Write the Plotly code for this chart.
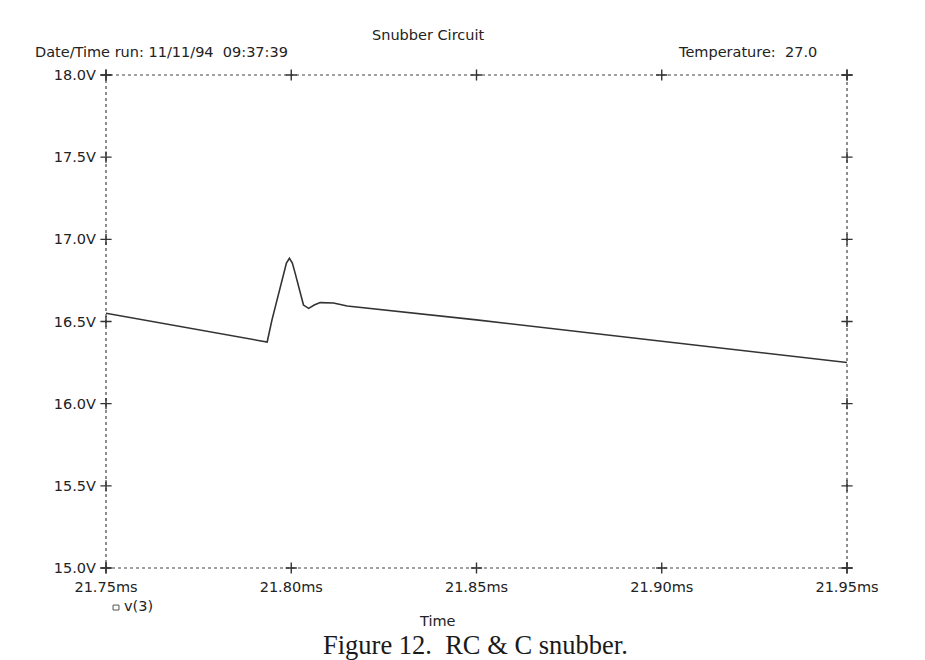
import plotly.graph_objects as go

# Transient response of node 3 (time in ms, voltage in V)
time_ms = [21.75, 21.7935, 21.7948, 21.7961, 21.7979, 21.7987, 21.7995, 21.8003,
           21.8011, 21.8033, 21.8047, 21.8062, 21.8078, 21.8114, 21.8151,
           21.85, 21.90, 21.95]
v3 = [16.55, 16.375, 16.51, 16.63, 16.79, 16.855, 16.885, 16.855,
      16.79, 16.60, 16.58, 16.60, 16.615, 16.613, 16.594,
      16.51, 16.38, 16.25]

x_ticks = [21.75, 21.80, 21.85, 21.90, 21.95]
x_labels = ["21.75ms", "21.80ms", "21.85ms", "21.90ms", "21.95ms"]
y_ticks = [15.0, 15.5, 16.0, 16.5, 17.0, 17.5, 18.0]
y_labels = ["15.0V", "15.5V", "16.0V", "16.5V", "17.0V", "17.5V", "18.0V"]

X_MIN, X_MAX = x_ticks[0], x_ticks[-1]
Y_MIN, Y_MAX = y_ticks[0], y_ticks[-1]

INK = "#222222"
FONT = "DejaVu Sans"
FSIZE = 14.5

fig = go.Figure()

fig.add_trace(go.Scatter(
    x=time_ms, y=v3, mode="lines", name="v(3)",
    line=dict(color="#333333", width=1.6),
    showlegend=False,
))

# "+" tick marks on all four sides of the frame
cross = dict(symbol="cross-thin", size=8, line=dict(color="#333333", width=1.4))
fig.add_trace(go.Scatter(
    x=x_ticks + x_ticks, y=[Y_MIN] * len(x_ticks) + [Y_MAX] * len(x_ticks),
    mode="markers", marker=cross, showlegend=False, hoverinfo="skip", cliponaxis=False,
))
fig.add_trace(go.Scatter(
    x=[X_MIN] * len(y_ticks) + [X_MAX] * len(y_ticks), y=y_ticks + y_ticks,
    mode="markers", marker=cross, showlegend=False, hoverinfo="skip", cliponaxis=False,
))

# dashed frame
fig.add_shape(type="rect", xref="paper", yref="paper", x0=0, y0=0, x1=1, y1=1,
              line=dict(color="#444444", width=1.2, dash="3px,3px"), layer="below")

# legend swatch
fig.add_shape(type="rect", xref="paper", yref="paper",
              x0=0.0095, x1=0.0175, y0=-0.0852, y1=-0.0752,
              line=dict(color="#555555", width=1))

ann = dict(showarrow=False, font=dict(family=FONT, size=FSIZE, color=INK))
fig.add_annotation(text="Snubber Circuit", x=0.4345, y=1.081, xref="paper", yref="paper",
                   xanchor="center", yanchor="middle", **ann)
fig.add_annotation(text="Date/Time run: 11/11/94\u00a0\u00a009:37:39", x=-0.0985, y=1.0467,
                   xref="paper", yref="paper", xanchor="left", yanchor="middle", **ann)
fig.add_annotation(text="Temperature:\u00a0\u00a027.0", x=0.769, y=1.0467,
                   xref="paper", yref="paper", xanchor="left", yanchor="middle", **ann)
fig.add_annotation(text="v(3)", x=0.0215, y=-0.0775, xref="paper", yref="paper",
                   xanchor="left", yanchor="middle", **ann)
fig.add_annotation(text="Time", x=0.4467, y=-0.1075, xref="paper", yref="paper",
                   xanchor="center", yanchor="middle", **ann)
fig.add_annotation(text="Figure 12.\u00a0\u00a0RC &amp; C snubber.", x=0.4993, y=-0.157,
                   xref="paper", yref="paper", xanchor="center", yanchor="middle",
                   showarrow=False,
                   font=dict(family="Liberation Serif", size=26.5, color="#1a1a1a"))

fig.update_xaxes(range=[X_MIN, X_MAX], tickvals=x_ticks, ticktext=x_labels,
                 showgrid=False, zeroline=False, showline=False, ticks="",
                 ticklabelstandoff=8,
                 tickfont=dict(family=FONT, size=FSIZE, color=INK))
fig.update_yaxes(range=[Y_MIN, Y_MAX], tickvals=y_ticks, ticktext=y_labels,
                 showgrid=False, zeroline=False, showline=False, ticks="",
                 ticklabelstandoff=9,
                 tickfont=dict(family=FONT, size=FSIZE, color=INK))

fig.update_layout(
    width=925, height=660,
    margin=dict(l=106, r=78, t=75, b=92),
    paper_bgcolor="white", plot_bgcolor="white",
    showlegend=False,
)

fig.write_html("out.html")
